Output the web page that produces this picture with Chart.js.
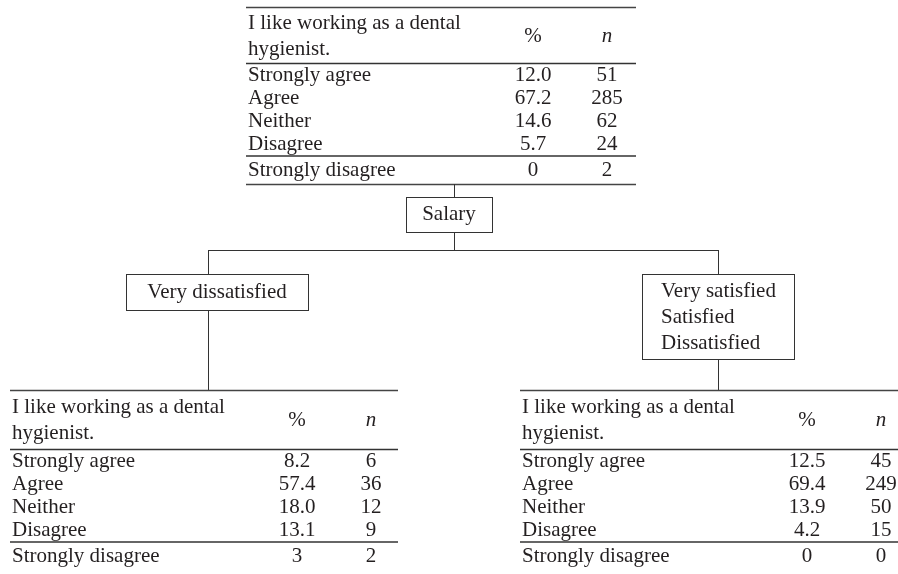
<!DOCTYPE html>
<html><head><meta charset="utf-8">
<script src="https://cdn.jsdelivr.net/npm/chart.js@4"></script>
<style>html,body{margin:0;padding:0;background:#fff;} #c{display:block;}</style>
</head><body>
<canvas id="c" width="898" height="574"></canvas>
<script>
// ---- data ----
const questionLines = ['I like working as a dental', 'hygienist.'];
const responseLabels = ['Strongly agree', 'Agree', 'Neither', 'Disagree', 'Strongly disagree'];
const overallPct = [12.0, 67.2, 14.6, 5.7, 0];
const overallN = [51, 285, 62, 24, 2];
const splitVariable = 'Salary';
const leftGroupLabels = ['Very dissatisfied'];
const leftPct = [8.2, 57.4, 18.0, 13.1, 3];
const leftN = [6, 36, 12, 9, 2];
const rightGroupLabels = ['Very satisfied', 'Satisfied', 'Dissatisfied'];
const rightPct = [12.5, 69.4, 13.9, 4.2, 0];
const rightN = [45, 249, 50, 15, 0];

// ---- style ----
const FONT = '21px "Liberation Serif", "Times New Roman", serif';
const FONT_I = 'italic 21px "Liberation Serif", "Times New Roman", serif';
const TEXT = '#231f20';
const LINE = '#333333';

function fmtPct(v, i) { return i < 4 ? v.toFixed(1) : String(v); }

const treePlugin = {
  id: 'tree',
  afterDraw(chart) {
    const ctx = chart.ctx;
    const xs = chart.scales.x, ys = chart.scales.y;
    const X = v => xs.getPixelForValue(v);
    const Y = v => ys.getPixelForValue(v);
    const crisp = (p, w) => (Math.round(w) % 2 === 1 ? Math.round(p) + 0.5 : Math.round(p));

    function hline(x1, x2, y, w, col) {
      ctx.save(); ctx.strokeStyle = col; ctx.lineWidth = w;
      const py = crisp(Y(y), w);
      ctx.beginPath(); ctx.moveTo(X(x1), py); ctx.lineTo(X(x2), py); ctx.stroke(); ctx.restore();
    }
    function vline(x, y1, y2, w, col) {
      ctx.save(); ctx.strokeStyle = col; ctx.lineWidth = w;
      const px = crisp(X(x), w);
      ctx.beginPath(); ctx.moveTo(px, Y(y1)); ctx.lineTo(px, Y(y2)); ctx.stroke(); ctx.restore();
    }
    function rect(x1, y1, x2, y2) {
      ctx.save(); ctx.strokeStyle = LINE; ctx.lineWidth = 1;
      ctx.strokeRect(crisp(X(x1),1), crisp(Y(y1),1), Math.round(X(x2)-X(x1)), Math.round(Y(y2)-Y(y1)));
      ctx.restore();
    }
    function text(s, x, y, align, font) {
      ctx.save(); ctx.fillStyle = TEXT; ctx.font = font || FONT;
      ctx.textAlign = align; ctx.textBaseline = 'middle';
      ctx.fillText(s, X(x), Y(y)); ctx.restore();
    }
    function table(L, T, W, pct, n, bottomLine, d) {
      hline(L, L + W, T, 1.3, '#444');
      text(questionLines[0], L + 2, T + 16 + d * 0.5, 'left');
      text(questionLines[1], L + 2, T + 42 + d * 0.5, 'left');
      text('%', L + 287, T + 29 + d * 0.5, 'center');
      text('n', L + 361, T + 29 + d * 0.5, 'center', FONT_I);
      hline(L, L + W, T + 56 + d, 1.3, '#333');
      for (let i = 0; i < 4; i++) {
        const y = T + 68 + d + i * 23;
        text(responseLabels[i], L + 2, y, 'left');
        text(fmtPct(pct[i], i), L + 287, y, 'center');
        text(String(n[i]), L + 361, y, 'center');
      }
      hline(L, L + W, T + 149 + d, 2, '#666');
      const y4 = T + 163 + d;
      text(responseLabels[4], L + 2, y4, 'left');
      text(fmtPct(pct[4], 4), L + 287, y4, 'center');
      text(String(n[4]), L + 361, y4, 'center');
      if (bottomLine) hline(L, L + W, T + 177 + d, 1.3, '#444');
    }

    ctx.save();
    ctx.fillStyle = '#fff'; ctx.fillRect(0, 0, chart.width, chart.height);
    ctx.restore();

    // root table
    table(246, 7, 390, overallPct, overallN, true, 0);
    // stem to split box
    vline(454, 184, 197, 1, LINE);
    rect(406, 197, 492, 232);
    text(splitVariable, 449, 214.5, 'center');
    vline(454, 232, 250, 1, LINE);
    // branch line
    hline(208, 718, 250, 1, LINE);
    vline(208, 250, 274, 1, LINE);
    vline(718, 250, 274, 1, LINE);
    // left group box
    rect(126, 274, 308, 310);
    text(leftGroupLabels[0], 217, 292, 'center');
    vline(208, 310, 390, 1, LINE);
    // right group box
    rect(642, 274, 794, 359);
    rightGroupLabels.forEach((s, i) => text(s, 661, 291 + i * 26, 'left'));
    vline(718, 359, 390, 1, LINE);
    // child tables
    table(10, 390, 388, leftPct, leftN, false, 3);
    table(520, 390, 388, rightPct, rightN, false, 3);
  }
};

new Chart(document.getElementById('c'), {
  type: 'scatter',
  data: { datasets: [{ data: [] }] },
  options: {
    responsive: false, animation: false, events: [],
    layout: { padding: 0 },
    plugins: { legend: { display: false }, tooltip: { enabled: false } },
    scales: {
      x: { type: 'linear', min: 0, max: 898, display: false },
      y: { type: 'linear', min: 0, max: 574, reverse: true, display: false }
    }
  },
  plugins: [treePlugin]
});
</script></body></html>
